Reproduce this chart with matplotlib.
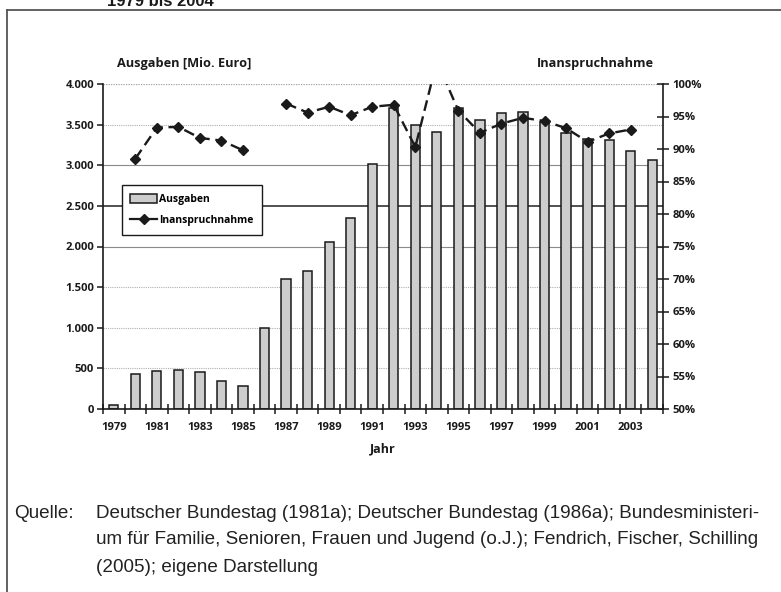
#!/usr/bin/env python

import numpy as np
import matplotlib
matplotlib.use('Agg')
import matplotlib.pyplot as plt
from matplotlib.lines import Line2D
from matplotlib.patches import Patch

W, H = 781, 592

years = list(range(1979, 2005))
ausgaben = [55, 430, 472, 476, 451, 349, 283, 1000, 1600, 1700, 2060, 2350, 3020,
            3700, 3490, 3410, 3700, 3560, 3640, 3660, 3530, 3400, 3320, 3310, 3170, 3065]
inanspruchnahme = [np.nan, 88.5, 93.3, 93.4, 91.7, 91.3, 89.8, np.nan, 97.0, 95.6, 96.5,
                   95.2, 96.5, 96.8, 90.3, 103.5, 95.9, 92.5, 93.9, 94.8, 94.3, 93.2,
                   91.1, 92.4, 93.0, np.nan]
left_ticks = [0, 500, 1000, 1500, 2000, 2500, 3000, 3500, 4000]
left_labels = ['0', '500', '1.000', '1.500', '2.000', '2.500', '3.000', '3.500', '4.000']
right_ticks = [50, 55, 60, 65, 70, 75, 80, 85, 90, 95, 100]
right_labels = [f'{t}%' for t in right_ticks]
x_labels = list(range(1979, 2004, 2))

source_lines = [
    'Deutscher Bundestag (1981a); Deutscher Bundestag (1986a); Bundesministeri-',
    'um für Familie, Senioren, Frauen und Jugend (o.J.); Fendrich, Fischer, Schilling',
    '(2005); eigene Darstellung',
]

CHART_FONT = ['Open Sans', 'DejaVu Sans']
TEXT_FONT = ['Liberation Sans', 'DejaVu Sans']
BAR_GREY = '#cdcdcd'
INK = '#1a1a1a'
TICK_SIZE = 8.1

# gridline look per level (the scan shows them in different strengths)
grid_style = {
    500: ('#b0b0b0', (0, (1, 1)), 0.8),
    1000: ('#b0b0b0', (0, (1, 1)), 0.8),
    1500: ('#b0b0b0', (0, (1, 1)), 0.8),
    2000: ('#8a8a8a', '-', 0.8),
    2500: ('#222222', '-', 1.1),
    3000: ('#8a8a8a', '-', 0.8),
    3500: ('#b0b0b0', (0, (1, 1)), 0.8),
    4000: ('#a0a0a0', (0, (1, 1)), 0.9),
}

plt.rcParams['font.family'] = CHART_FONT

fig = plt.figure(figsize=(W / 100, H / 100), dpi=100)


def px(x, y):
    return x / W, 1 - y / H


x0, y_top = px(103, 84)
x1, y_bot = px(663, 409)
ax = fig.add_axes((x0, y_bot, x1 - x0, y_top - y_bot))

for level, (col, ls, lw) in grid_style.items():
    ax.axhline(level, color=col, linestyle=ls, linewidth=lw, zorder=0)

ax.bar(years, ausgaben, width=0.43, color=BAR_GREY, edgecolor=INK, linewidth=1.1, zorder=2)
ax.set_xlim(1978.5, 2004.5)
ax.set_ylim(0, 4000)
ax.set_yticks(left_ticks)
ax.set_yticklabels(left_labels)
ax.set_xticks(x_labels)
ax.set_xticks(np.arange(1978.5, 2005, 1), minor=True)
ax.tick_params(axis='x', which='major', length=0, pad=9, labelsize=TICK_SIZE, colors=INK)
ax.tick_params(axis='x', which='minor', direction='inout', length=7, width=1.1, color=INK)
ax.tick_params(axis='y', direction='out', length=4, width=1.1, pad=2.5, labelsize=TICK_SIZE, colors=INK)
for lab in ax.get_xticklabels() + ax.get_yticklabels():
    lab.set_fontweight('bold')
ax.spines['top'].set_visible(False)
ax.spines['right'].set_visible(False)
ax.spines['left'].set_color(INK)
ax.spines['left'].set_linewidth(1.2)
ax.spines['bottom'].set_color(INK)
ax.spines['bottom'].set_linewidth(1.2)

ax2 = ax.twinx()
line, = ax2.plot(years, inanspruchnahme, color=INK, linewidth=1.7, dashes=(4.6, 2.4),
                 marker='D', markersize=4.8, zorder=3)
ax2.set_ylim(50, 100)
ax2.set_yticks(right_ticks)
ax2.set_yticklabels(right_labels)
ax2.tick_params(axis='y', direction='inout', length=8, width=1.1, pad=3, labelsize=TICK_SIZE, colors=INK)
for lab in ax2.get_yticklabels():
    lab.set_fontweight('bold')
for s in ['top', 'left', 'bottom']:
    ax2.spines[s].set_visible(False)
ax2.spines['right'].set_color(INK)
ax2.spines['right'].set_linewidth(1.2)

# axis titles
fig.text(*px(184, 63), 'Ausgaben [Mio. Euro]', ha='center', va='center',
         fontsize=9.2, fontweight='bold', color=INK)
fig.text(*px(595, 63), 'Inanspruchnahme', ha='center', va='center',
         fontsize=9.2, fontweight='bold', color=INK)
fig.text(*px(383, 449), 'Jahr', ha='center', va='center',
         fontsize=9, fontweight='bold', color=INK)

# legend
bar_handle = Patch(facecolor=BAR_GREY, edgecolor=INK, linewidth=1.1)
line_handle = Line2D([], [], color=INK, linewidth=1.6, marker='D', markersize=4.8)
leg = fig.legend([bar_handle, line_handle], ['Ausgaben', 'Inanspruchnahme'],
                 loc='upper left', bbox_to_anchor=px(121.7, 185.5),
                 prop={'size': 7.5, 'weight': 'bold'}, fancybox=False,
                 edgecolor=INK, framealpha=1, handlelength=2.6, handleheight=0.9,
                 handletextpad=0.2, labelspacing=1.0, borderpad=0.8,
                 borderaxespad=0)
leg.get_frame().set_linewidth(1.0)
leg.set_zorder(5)

# heading, cut by the page edge as in the scan
fig.text(*px(107, 6), '1979 bis 2004', ha='left', va='baseline',
         fontsize=12, fontweight='bold', family=TEXT_FONT, color=INK)

# frame of the figure box
fig.add_artist(Line2D([7 / W, 1], [1 - 10 / H, 1 - 10 / H], color='#555555', linewidth=1.3))
fig.add_artist(Line2D([7 / W, 7 / W], [0, 1 - 10 / H], color='#555555', linewidth=1.3))

# source note
fig.text(*px(14, 513), 'Quelle:', ha='left', va='center', fontsize=13.6,
         family=TEXT_FONT, color='#222222')
for i, txt in enumerate(source_lines):
    fig.text(*px(96, 513 + 27 * i), txt, ha='left', va='center', fontsize=13.6,
             family=TEXT_FONT, color='#222222')

fig.savefig('out.png', dpi=100)
